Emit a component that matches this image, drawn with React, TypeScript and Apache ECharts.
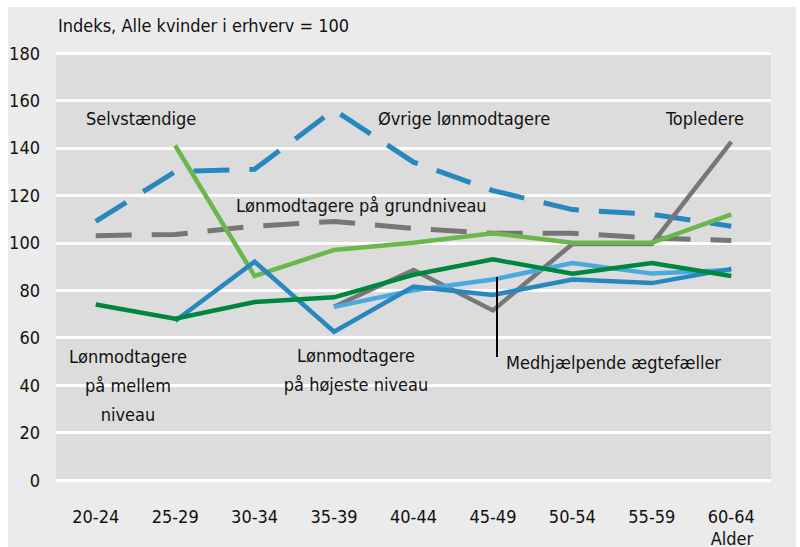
import React, { useEffect, useRef } from "react";
import * as echarts from "echarts";

const categories = ["20-24", "25-29", "30-34", "35-39", "40-44", "45-49", "50-54", "55-59", "60-64"];
const yTicks = [0, 20, 40, 60, 80, 100, 120, 140, 160, 180];

const selvstaendige = [null, 141, 86, 97, 100, 104, 100, 100, 112];
const ovrigeLonmodtagere = [109, 130, 131, 156, 134, 122, 114, 112, 107];
const grundniveau = [103, 103.5, 107, 109, 106, 104, 104, 102, 101];
const topledere = [null, null, null, 73, 88.5, 71.5, 99.5, 99.5, 142.5];
const mellemNiveau = [74, 68, 75, 77, 86.5, 93, 87, 91.5, 86];
const hojesteNiveau = [null, 67, 92, 62.5, 81.5, 78, 84.5, 83, 89];
const medhjaelpende = [null, null, null, 73, 80, 84.5, 91.5, 87, 88.5];

const FONT = "'Liberation Sans Narrow', 'DejaVu Sans Condensed', 'Roboto Condensed', sans-serif";

export default function App() {
  const ref = useRef<HTMLDivElement>(null);
  useEffect(() => {
    document.body.style.margin = "0";
    const chart = echarts.init(ref.current!, null, { renderer: "svg" });
    const line = (name: string, data: (number | null)[], color: string, dashed = false) => ({
      name,
      type: "line",
      data: data.map((v) => (v === null ? "-" : v)),
      showSymbol: false,
      symbol: "none",
      connectNulls: false,
      lineStyle: { color, width: dashed ? 5 : 4.5, type: dashed ? [36, 20] : "solid", cap: "butt", join: "miter" },
      silent: true,
    });
    const txt = (text: string, x: number, y: number, align = "left") => ({
      type: "text",
      x,
      y,
      style: {
        text,
        fill: "#111",
        font: `18px ${FONT}`,
        textAlign: align,
        textVerticalAlign: "middle",
        lineHeight: 29,
      },
      z: 100,
    });
    chart.setOption({
      animation: false,
      backgroundColor: "#ffffff",
      grid: {
        left: 56,
        right: 29,
        top: 53,
        bottom: 67,
        show: true,
        backgroundColor: "#dcdcdc",
        borderWidth: 0,
        containLabel: false,
      },
      xAxis: {
        type: "category",
        data: categories,
        boundaryGap: true,
        axisLine: { show: false },
        axisTick: { show: false },
        axisLabel: { color: "#111", fontSize: 18, fontFamily: FONT, margin: 27 },
        splitLine: { show: false },
      },
      yAxis: {
        type: "value",
        min: yTicks[0],
        max: yTicks[yTicks.length - 1],
        interval: 20,
        axisLine: { show: false },
        axisTick: { show: false },
        axisLabel: { color: "#111", fontSize: 18, fontFamily: FONT, margin: 16, align: "right" },
        splitLine: { show: true, lineStyle: { color: "#ffffff", width: 3 } },
      },
      graphic: [
        {
          type: "rect",
          shape: { x: 8, y: 7, width: 788, height: 540 },
          style: { fill: "#ebebeb" },
          z: -10,
          silent: true,
        },
        txt("Indeks, Alle kvinder i erhverv = 100", 58, 25),
        txt("Selvstændige", 86, 118),
        txt("Øvrige lønmodtagere", 378, 118),
        txt("Topledere", 666, 118),
        txt("Lønmodtagere på grundniveau", 236, 205),
        txt("Lønmodtagere\npå mellem\nniveau", 128, 385, "center"),
        txt("Lønmodtagere\npå højeste niveau", 356, 370, "center"),
        txt("Medhjælpende ægtefæller", 506, 362),
        txt("Alder", 732, 538, "center"),
        {
          type: "line",
          shape: { x1: 497, y1: 277, x2: 497, y2: 357 },
          style: { stroke: "#000", lineWidth: 2 },
          z: 100,
        },
      ],
      series: [
        line("Lønmodtagere på grundniveau", grundniveau, "#767676", true),
        line("Øvrige lønmodtagere", ovrigeLonmodtagere, "#2987bf", true),
        line("Topledere", topledere, "#777777"),
        line("Selvstændige", selvstaendige, "#6ab74b"),
        line("Medhjælpende ægtefæller", medhjaelpende, "#4ba9e1"),
        line("Lønmodtagere på højeste niveau", hojesteNiveau, "#2987bf"),
        line("Lønmodtagere på mellem niveau", mellemNiveau, "#00873f"),
      ],
    });
    return () => chart.dispose();
  }, []);
  return <div ref={ref} style={{ width: 800, height: 547 }} />;
}
